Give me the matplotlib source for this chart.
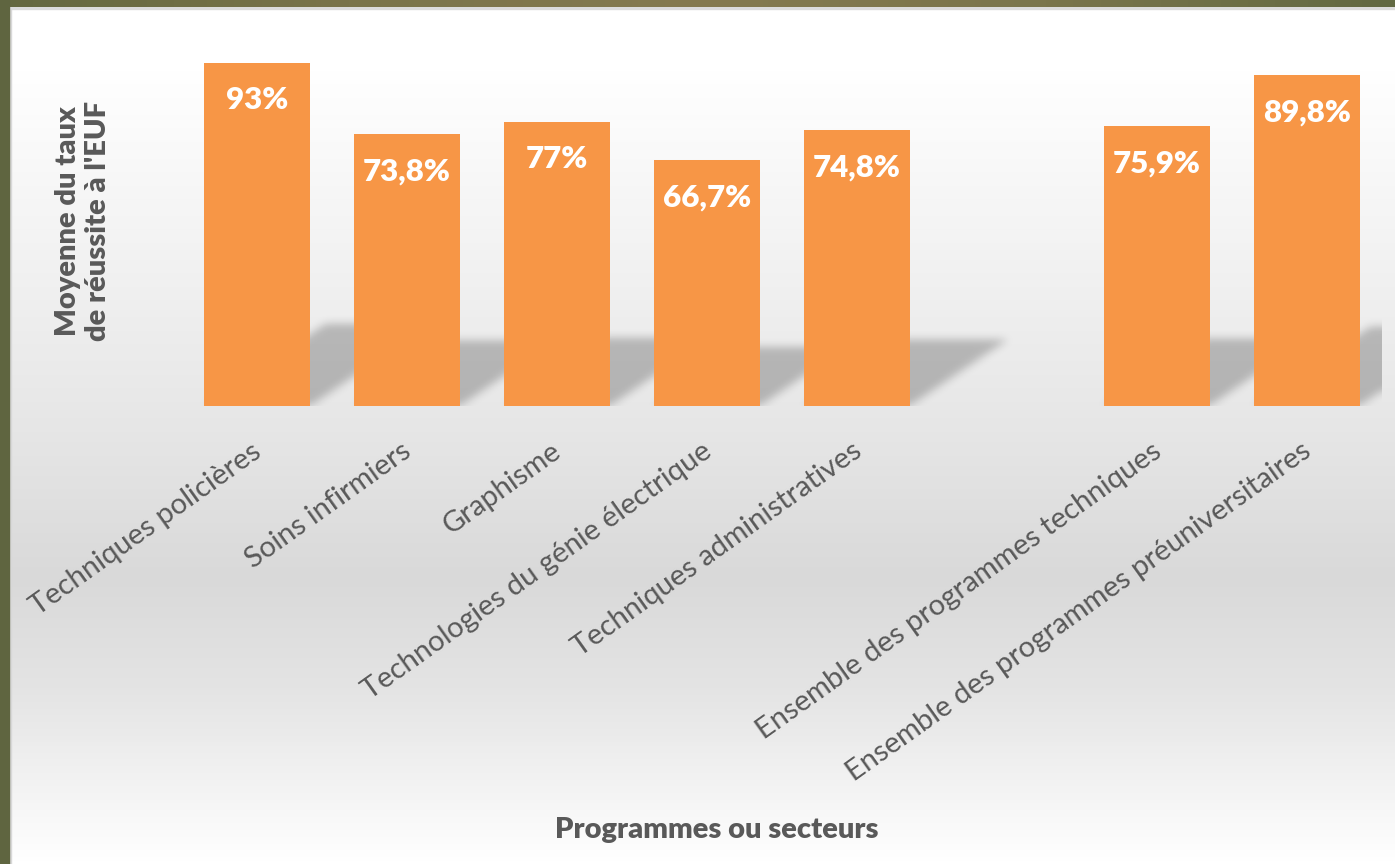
import matplotlib
matplotlib.use("Agg")
import matplotlib.pyplot as plt
import matplotlib.transforms as mtransforms
import numpy as np
from matplotlib.path import Path
from matplotlib.colors import LinearSegmentedColormap

categories = [
    "Techniques policières",
    "Soins infirmiers",
    "Graphisme",
    "Technologies du génie électrique",
    "Techniques administratives",
    "",
    "Ensemble des programmes techniques",
    "Ensemble des programmes préuniversitaires",
]
values = [93.0, 73.8, 77.0, 66.7, 74.8, None, 75.9, 89.8]
value_labels = ["93%", "73,8%", "77%", "66,7%", "74,8%", "", "75,9%", "89,8%"]

plt.rcParams['font.family'] = ['Lato', 'DejaVu Sans']
TXT = '#595959'
BAR = '#F79646'

W, H = 1395, 864
fig = plt.figure(figsize=(W / 100, H / 100), dpi=100)

# background gradient (white -> grey -> white)
bg = fig.add_axes([0, 0, 1, 1], zorder=-10)
grad_cmap = LinearSegmentedColormap.from_list(
    'bg', [(0.0, '#ffffff'), (0.08, '#ffffff'), (0.5, '#e6e6e6'),
           (0.67, '#d9d9d9'), (0.8, '#e4e4e4'), (1.0, '#ffffff')])
bg.imshow(np.linspace(0, 1, 256).reshape(-1, 1), cmap=grad_cmap,
          aspect='auto', extent=(0, 1, 0, 1), origin='upper')
bg.set_axis_off()

# olive frame on top and left
top = fig.add_axes([0, 1 - 7 / H, 1, 7 / H], zorder=6)
frame_cmap = LinearSegmentedColormap.from_list(
    'frame', ['#646840', '#7a744a', '#857a4f', '#7a754b', '#626942'])
top.imshow(np.linspace(0, 1, 256).reshape(1, -1), cmap=frame_cmap,
           aspect='auto', extent=(0, 1, 0, 1))
top.set_axis_off()
fig.patches.append(plt.Rectangle((0, 1 - 9 / H), 1, 2 / H, transform=fig.transFigure,
                                 color='#dcdcdc', zorder=5))
fig.patches.append(plt.Rectangle((0, 0), 9 / W, 1, transform=fig.transFigure,
                                 color='#5f6540', zorder=7))
fig.patches.append(plt.Rectangle((9 / W, 0), 2 / W, 1 - 9 / H, transform=fig.transFigure,
                                 color='#d8d8d8', zorder=5))

ax = fig.add_axes([182 / W, (H - 406) / H, 1200 / W, 369 / H])
ax.patch.set_alpha(0)

x = np.arange(len(categories))
vals = np.array([np.nan if v is None else v for v in values])
bw = 106 / 150

# perspective shadow behind the bars
rise, lean = 0.24, 0.0087
nx, ny = 1200, 120
ytop = 30
gx = np.linspace(-0.5, 7.5, nx)
gy = np.linspace(0, ytop, ny)
GX, GY = np.meshgrid(gx, gy)
pts = np.column_stack([GX.ravel(), GY.ravel()])
mask = np.zeros(nx * ny)
for xi, v in zip(x, vals):
    if np.isnan(v):
        continue
    poly = Path([(xi - bw / 2, 0), (xi + bw / 2, 0),
                 (xi + bw / 2 + lean * v, rise * v), (xi - bw / 2 + lean * v, rise * v)])
    mask = np.maximum(mask, poly.contains_points(pts))
mask = mask.reshape(ny, nx)
k = np.exp(-0.5 * (np.arange(-14, 15) / 4.5) ** 2)
k /= k.sum()
pad = np.pad(mask, ((0, 14), (14, 14)), mode='edge')
pad = np.apply_along_axis(lambda r: np.convolve(r, k, mode='same'), 1, pad)
pad = np.pad(pad, ((14, 0), (0, 0)), mode='constant')
pad = np.apply_along_axis(lambda c: np.convolve(c, k, mode='same'), 0, pad)
blur = pad[14:14 + ny, 14:14 + nx]
shadow = np.zeros((ny, nx, 4))
shadow[..., 3] = 0.23 * blur
ax.imshow(shadow, extent=(-0.5, 7.5, 0, ytop), origin='lower', aspect='auto', zorder=1)

bars = ax.bar(x, np.nan_to_num(vals), width=bw, color=BAR, zorder=2)
for xi, v, lab in zip(x, vals, value_labels):
    if np.isnan(v):
        continue
    ax.annotate(lab, (xi, v), xytext=(0, -27), textcoords='offset points',
                ha='center', va='center', color='white', fontsize=22.5,
                fontweight='heavy', zorder=3)

ax.set_xlim(-0.5, 7.5)
ax.set_ylim(0, 100)
ax.set_yticks([])
ax.set_xticks(x)
ax.set_xticklabels(categories, rotation=35.5, ha='right', rotation_mode='anchor',
                   fontsize=21, color=TXT)
ax.tick_params(axis='x', length=0, pad=23)
shift = mtransforms.ScaledTranslation(-6 / 100, 0, fig.dpi_scale_trans)
for lab in ax.get_xticklabels():
    lab.set_transform(lab.get_transform() + shift)
for s in ax.spines.values():
    s.set_visible(False)

fig.text(83 / W, 1 - 221 / H, "Moyenne du taux\nde réussite à l'EUF", rotation=90,
         ha='center', va='center', fontsize=21, fontweight='heavy', color=TXT,
         linespacing=1.2)
fig.text(717 / W, 1 - 830 / H, "Programmes ou secteurs", ha='center', va='center',
         fontsize=21, fontweight='heavy', color=TXT)

fig.savefig('out.png', dpi=100)
